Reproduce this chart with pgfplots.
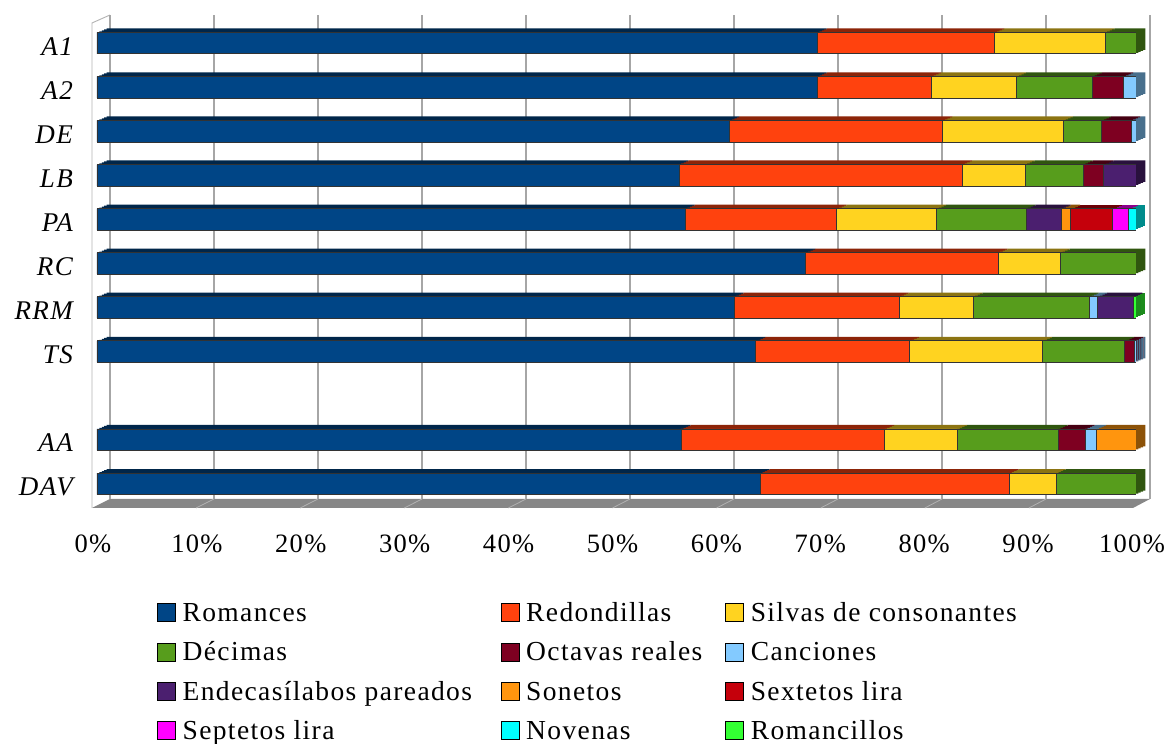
\documentclass[border=0pt]{standalone}
\usepackage{pgfplots}
\pgfplotsset{compat=1.18}
\usepackage{pgfplotstable}
\usepackage{fontspec}
\setmainfont{Liberation Serif}[LetterSpace=5]

\definecolor{cRom}{HTML}{004586}
\definecolor{cRed}{HTML}{FF420E}
\definecolor{cSil}{HTML}{FFD320}
\definecolor{cDec}{HTML}{579D1C}
\definecolor{cOct}{HTML}{7E0021}
\definecolor{cCan}{HTML}{83CAFF}
\definecolor{cEnd}{HTML}{4B1F6F}
\definecolor{cSon}{HTML}{FF950E}
\definecolor{cSex}{HTML}{C5000B}
\definecolor{cSep}{HTML}{FF00FF}
\definecolor{cNov}{HTML}{00FFFF}
\definecolor{cRcl}{HTML}{33FF33}

% percentage of each verse form per play (rows: A1 ... TS, then AA, DAV)
\pgfplotstableread{
pos  Rom  Red  Sil  Dec  Oct  Can  End  Son  Sex  Sep  Nov  Rcl
0    69.3 17.1 10.6 3.0  0    0    0    0    0    0    0    0
-1   69.3 11.0 8.2  7.3  3.0  1.2  0    0    0    0    0    0
-2   60.9 20.5 11.6 3.7  2.8  0.5  0    0    0    0    0    0
-3   56.0 27.3 6.0  5.6  2.0  0    3.1  0    0    0    0    0
-4   56.6 14.6 9.6  8.6  0    0    3.4  0.9  4.0  1.6  0.7  0
-5   68.2 18.5 6.0  7.3  0    0    0    0    0    0    0    0
-6   61.3 15.9 7.1  11.2 0    0.8  3.4  0    0    0    0    0.3
-7   63.4 14.8 12.8 7.9  0.9  0.2  0    0    0    0    0    0
-9   56.2 19.6 7.0  9.7  2.6  1.1  0    3.8  0    0    0    0
-10  63.8 24.0 4.5  7.7  0    0    0    0    0    0    0    0
}\versos

\newcommand{\stackbars}[1]{%
  \addplot[fill=cRom#1] table[x=Rom,y=pos]{\versos};
  \addplot[fill=cRed#1] table[x=Red,y=pos]{\versos};
  \addplot[fill=cSil#1] table[x=Sil,y=pos]{\versos};
  \addplot[fill=cDec#1] table[x=Dec,y=pos]{\versos};
  \addplot[fill=cOct#1] table[x=Oct,y=pos]{\versos};
  \addplot[fill=cCan#1] table[x=Can,y=pos]{\versos};
  \addplot[fill=cEnd#1] table[x=End,y=pos]{\versos};
  \addplot[fill=cSon#1] table[x=Son,y=pos]{\versos};
  \addplot[fill=cSex#1] table[x=Sex,y=pos]{\versos};
  \addplot[fill=cSep#1] table[x=Sep,y=pos]{\versos};
  \addplot[fill=cNov#1] table[x=Nov,y=pos]{\versos};
  \addplot[fill=cRcl#1] table[x=Rcl,y=pos]{\versos};
}

\pgfplotsset{
  barframe/.style={
    scale only axis, width=1039pt, height=484.8pt,
    xmin=0, xmax=100, ymin=-10.5, ymax=0.5,
    xbar stacked, bar width=21.5pt,
  },
}

% side/top faces of the bars: shifted copies in a darker shade
\newcommand{\depthaxis}[1]{%
  \begin{axis}[barframe, hide axis,
    at={({97pt+9.5pt*#1},{723pt+4pt*#1})}, anchor=north west,
    every axis plot/.append style={draw=none}]
    \stackbars{!55!black}
  \end{axis}}

\newcommand{\legfont}{\fontsize{27.5}{32}\selectfont}
\newcommand{\tickfont}{\fontsize{26.5}{30}\selectfont}
\newcommand{\catfont}{\fontsize{27}{30}\selectfont\itshape}

\begin{document}
\begin{tikzpicture}
\useasboundingbox (0,0) rectangle (1171pt,744pt);

% floor
\fill[black!47] (92pt,236pt) -- (1133pt,236pt) -- (1150pt,245pt) -- (110pt,245pt) -- cycle;
\foreach \k in {1,...,9}
  \draw[black!30, line width=0.8pt] ({110pt+104pt*\k},245pt) -- ({92pt+104.1pt*\k},236pt);
% left wall edge
\draw[black!30, line width=0.9pt] (92pt,236pt) -- (92pt,721pt) -- (110pt,729pt);

% back wall with vertical grid
\begin{axis}[at={(110pt,729pt)}, anchor=north west,
  scale only axis, width=1040pt, height=484pt,
  xmin=0, xmax=100, ymin=0, ymax=1,
  xtick={0,10,...,100}, xticklabels={}, ytick=\empty,
  xmajorgrids, major grid style={black!35, line width=1.3pt},
  axis line style={draw=none}, tick style={draw=none}]
\end{axis}

\depthaxis{1}
\depthaxis{0.75}
\depthaxis{0.5}
\depthaxis{0.25}

% front faces, labels and legend
\begin{axis}[barframe,
  at={(97pt,723pt)}, anchor=north west,
  axis line style={draw=none}, tick style={draw=none},
  xtick={0,10,...,100},
  xticklabels={0\%,10\%,20\%,30\%,40\%,50\%,60\%,70\%,80\%,90\%,100\%},
  ytick={-10,-9,-7,-6,-5,-4,-3,-2,-1,0},
  yticklabels={DAV,AA,TS,RRM,RC,PA,LB,DE,A2,A1},
  xticklabel style={font=\tickfont, anchor=base, inner sep=0pt, xshift=-4pt, yshift=-47.2pt},
  yticklabel style={font=\catfont, anchor=base east, inner sep=0pt, xshift=-24pt, yshift=-12pt},
  every axis plot/.append style={draw=black!80, line width=0.6pt},
  every axis plot post/.append style={
    legend image code/.code={\draw[##1, draw=black, line width=0.6pt] (0pt,0pt) rectangle (18pt,18pt);}},
  legend columns=3,
  legend style={draw=none, fill=none, inner sep=0pt, outer sep=0pt,
    at={(0.05775,-0.1848)}, anchor=north west,
    column sep=0pt, row sep=0pt, font=\legfont,
    nodes={inner sep=0pt, outer sep=0pt, text height=26.3pt, text depth=13pt},
    cells={anchor=base west},
    /tikz/every odd column/.append style={column sep=7pt}},
]
\stackbars{}
\legend{
  \makebox[318pt][l]{Romances},
  \makebox[199pt][l]{Redondillas},
  Silvas de consonantes,
  \makebox[318pt][l]{Décimas},
  \makebox[199pt][l]{Octavas reales},
  Canciones,
  \makebox[318pt][l]{Endecasílabos pareados},
  \makebox[199pt][l]{Sonetos},
  Sextetos lira,
  \makebox[318pt][l]{Septetos lira},
  \makebox[199pt][l]{Novenas},
  Romancillos}
\end{axis}
\end{tikzpicture}
\end{document}
